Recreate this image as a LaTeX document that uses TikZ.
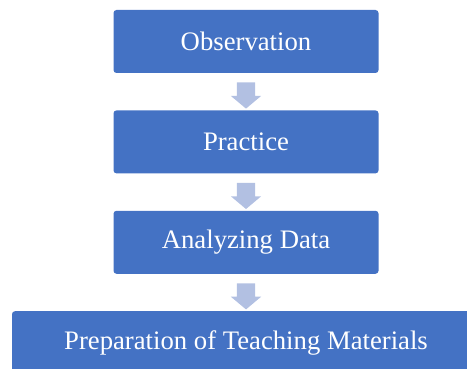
\documentclass[tikz,border=0pt]{standalone}
\usepackage{fontspec}
\setmainfont{Liberation Serif}
\usetikzlibrary{positioning,calc,shapes.arrows}
\definecolor{boxblue}{RGB}{68,114,196}
\definecolor{arrowblue}{RGB}{178,192,226}

\begin{document}
\begin{tikzpicture}[x=1pt,y=1pt,
  stage/.style={fill=boxblue, rounded corners=3pt, minimum width=265pt,
    minimum height=63pt, text=white, font=\fontsize{26.7}{32}\selectfont},
  downarrow/.style={single arrow, fill=arrowblue, shape border rotate=270,
    inner sep=9pt, minimum height=26pt, single arrow head extend=6pt,
    single arrow tip angle=100}]
\useasboundingbox (0,0) rectangle (467,-369);
%%%STAGES
\node[stage] (obs) at (246,-41.5) {Observation};
\node[stage, below=37pt of obs] (prac) {Practice};
\node[stage, below=37pt of prac] (anal) {Analyzing Data};
\node[stage, below=37pt of anal, minimum width=468pt] (prep) {Preparation of Teaching Materials};
%%%ARROWS BETWEEN STAGES
\node[downarrow] (a1) at ($(obs.south)!0.5!(prac.north)$) {};
\node[downarrow] (a2) at ($(prac.south)!0.5!(anal.north)$) {};
\node[downarrow] (a3) at ($(anal.south)!0.5!(prep.north)$) {};
\end{tikzpicture}
\end{document}
